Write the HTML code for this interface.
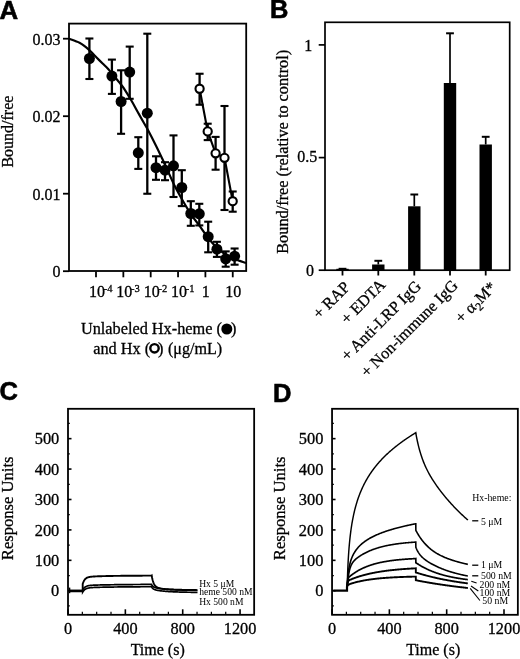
<!DOCTYPE html>
<html><head><meta charset="utf-8"><style>
html,body{margin:0;padding:0;background:#fff;width:520px;height:659px;overflow:hidden}
svg{display:block;filter:grayscale(1)}
</style></head><body>
<svg width="520" height="659" viewBox="0 0 520 659" stroke="#000" fill="#000" stroke-linecap="butt">
<g stroke="none" fill="#000"></g>
<text x="-0.50" y="19.00" font-size="25.8" text-anchor="start" font-family="Liberation Sans, sans-serif" font-weight="bold" stroke="#000" stroke-width="0.6">A</text>
<rect x="69" y="23.6" width="177.2" height="247.4" fill="none" stroke-width="1.8"/>
<line x1="63.00" y1="38.70" x2="69.00" y2="38.70" stroke-width="1.8"/>
<text stroke="#000" stroke-width="0.3" x="60.50" y="44.50" font-size="16" text-anchor="end" font-family="Liberation Serif, serif" >0.03</text>
<line x1="63.00" y1="116.20" x2="69.00" y2="116.20" stroke-width="1.8"/>
<text stroke="#000" stroke-width="0.3" x="60.50" y="122.00" font-size="16" text-anchor="end" font-family="Liberation Serif, serif" >0.02</text>
<line x1="63.00" y1="193.70" x2="69.00" y2="193.70" stroke-width="1.8"/>
<text stroke="#000" stroke-width="0.3" x="60.50" y="199.50" font-size="16" text-anchor="end" font-family="Liberation Serif, serif" >0.01</text>
<line x1="63.00" y1="271.20" x2="69.00" y2="271.20" stroke-width="1.8"/>
<text stroke="#000" stroke-width="0.3" x="60.50" y="277.00" font-size="16" text-anchor="end" font-family="Liberation Serif, serif" >0</text>
<line x1="96.00" y1="271.50" x2="96.00" y2="277.30" stroke-width="1.8"/>
<text stroke="#000" stroke-width="0.3" x="89.00" y="296.5" font-size="16" font-family="Liberation Serif, serif">10<tspan font-size="10.5" dy="-4.4" dx="-1.3">-4</tspan></text>
<line x1="123.35" y1="271.50" x2="123.35" y2="277.30" stroke-width="1.8"/>
<text stroke="#000" stroke-width="0.3" x="116.35" y="296.5" font-size="16" font-family="Liberation Serif, serif">10<tspan font-size="10.5" dy="-4.4" dx="-1.3">-3</tspan></text>
<line x1="150.70" y1="271.50" x2="150.70" y2="277.30" stroke-width="1.8"/>
<text stroke="#000" stroke-width="0.3" x="143.70" y="296.5" font-size="16" font-family="Liberation Serif, serif">10<tspan font-size="10.5" dy="-4.4" dx="-1.3">-2</tspan></text>
<line x1="178.05" y1="271.50" x2="178.05" y2="277.30" stroke-width="1.8"/>
<text stroke="#000" stroke-width="0.3" x="171.05" y="296.5" font-size="16" font-family="Liberation Serif, serif">10<tspan font-size="10.5" dy="-4.4" dx="-1.3">-1</tspan></text>
<line x1="205.40" y1="271.50" x2="205.40" y2="277.30" stroke-width="1.8"/>
<text stroke="#000" stroke-width="0.3" x="205.70" y="296.50" font-size="16" text-anchor="middle" font-family="Liberation Serif, serif" >1</text>
<line x1="232.75" y1="271.50" x2="232.75" y2="277.30" stroke-width="1.8"/>
<text stroke="#000" stroke-width="0.3" x="233.35" y="296.50" font-size="16" text-anchor="middle" font-family="Liberation Serif, serif" >10</text>
<text stroke="#000" stroke-width="0.3" x="80.90" y="334.20" font-size="16.3" text-anchor="start" font-family="Liberation Serif, serif" >Unlabeled Hx-heme (</text>
<text stroke="#000" stroke-width="0.3" x="230.90" y="334.20" font-size="16.3" text-anchor="start" font-family="Liberation Serif, serif" >)</text>
<circle cx="226.8" cy="329" r="5.5" fill="#000" stroke="none"/>
<text stroke="#000" stroke-width="0.3" x="93.20" y="353.80" font-size="16.3" text-anchor="start" font-family="Liberation Serif, serif" >and Hx (</text>
<text stroke="#000" stroke-width="0.3" x="158.10" y="353.80" font-size="16.3" text-anchor="start" font-family="Liberation Serif, serif" >)</text>
<text stroke="#000" stroke-width="0.3" x="167.90" y="353.80" font-size="16.1" text-anchor="start" font-family="Liberation Serif, serif" >(&#956;g/mL)</text>
<circle cx="154.5" cy="348.3" r="4.2" fill="none" stroke-width="2.4"/>
<text stroke="#000" stroke-width="0.3" transform="translate(12.5,131.6) rotate(-90)" font-size="16" text-anchor="middle" font-family="Liberation Serif, serif">Bound/free</text>
<path d="M69.00,38.70 C70.75,39.37 76.78,41.37 79.50,42.70 C82.22,44.03 83.37,45.17 85.30,46.70 C87.23,48.23 89.18,50.07 91.10,51.90 C93.02,53.73 94.88,55.77 96.80,57.70 C98.72,59.63 100.67,61.58 102.60,63.50 C104.53,65.42 106.47,67.08 108.40,69.20 C110.33,71.32 112.28,73.88 114.20,76.20 C116.12,78.52 118.37,81.18 119.90,83.10 C121.43,85.02 121.47,84.75 123.40,87.70 C125.33,90.65 129.18,96.88 131.50,100.80 C133.82,104.72 135.37,107.75 137.30,111.20 C139.23,114.65 141.37,118.43 143.10,121.50 C144.83,124.57 145.47,125.40 147.70,129.60 C149.93,133.80 154.07,141.83 156.50,146.70 C158.93,151.57 160.37,154.67 162.30,158.80 C164.23,162.93 165.98,166.88 168.10,171.50 C170.22,176.12 172.50,181.55 175.00,186.50 C177.50,191.45 180.40,196.52 183.10,201.20 C185.80,205.88 188.52,210.57 191.20,214.60 C193.88,218.63 196.52,221.70 199.20,225.40 C201.88,229.10 204.60,233.33 207.30,236.80 C210.00,240.27 212.70,243.50 215.40,246.20 C218.10,248.90 220.40,250.90 223.50,253.00 C226.60,255.10 230.25,257.13 234.00,258.80 C237.75,260.47 244.00,262.30 246.00,263.00" stroke-width="2.2" fill="none"/>
<path d="M199.6,88.75 L207.7,131.4 L215.6,153.3 L224.5,157.8 L232.7,201.2" stroke-width="2.1" fill="none"/>
<line x1="89.40" y1="38.50" x2="89.40" y2="79.00" stroke-width="2.3"/>
<line x1="85.40" y1="38.50" x2="93.40" y2="38.50" stroke-width="2.1"/>
<line x1="85.40" y1="79.00" x2="93.40" y2="79.00" stroke-width="2.1"/>
<line x1="111.90" y1="59.60" x2="111.90" y2="93.90" stroke-width="2.3"/>
<line x1="107.90" y1="59.60" x2="115.90" y2="59.60" stroke-width="2.1"/>
<line x1="107.90" y1="93.90" x2="115.90" y2="93.90" stroke-width="2.1"/>
<line x1="121.10" y1="70.30" x2="121.10" y2="133.80" stroke-width="2.3"/>
<line x1="117.10" y1="70.30" x2="125.10" y2="70.30" stroke-width="2.1"/>
<line x1="117.10" y1="133.80" x2="125.10" y2="133.80" stroke-width="2.1"/>
<line x1="129.70" y1="46.60" x2="129.70" y2="98.80" stroke-width="2.3"/>
<line x1="125.70" y1="46.60" x2="133.70" y2="46.60" stroke-width="2.1"/>
<line x1="125.70" y1="98.80" x2="133.70" y2="98.80" stroke-width="2.1"/>
<line x1="147.30" y1="33.70" x2="147.30" y2="193.75" stroke-width="2.3"/>
<line x1="143.30" y1="33.70" x2="151.30" y2="33.70" stroke-width="2.1"/>
<line x1="143.30" y1="193.75" x2="151.30" y2="193.75" stroke-width="2.1"/>
<line x1="138.30" y1="137.20" x2="138.30" y2="168.90" stroke-width="2.3"/>
<line x1="134.30" y1="137.20" x2="142.30" y2="137.20" stroke-width="2.1"/>
<line x1="134.30" y1="168.90" x2="142.30" y2="168.90" stroke-width="2.1"/>
<line x1="156.00" y1="156.30" x2="156.00" y2="179.80" stroke-width="2.3"/>
<line x1="152.00" y1="156.30" x2="160.00" y2="156.30" stroke-width="2.1"/>
<line x1="152.00" y1="179.80" x2="160.00" y2="179.80" stroke-width="2.1"/>
<line x1="165.00" y1="162.20" x2="165.00" y2="180.20" stroke-width="2.3"/>
<line x1="161.00" y1="162.20" x2="169.00" y2="162.20" stroke-width="2.1"/>
<line x1="161.00" y1="180.20" x2="169.00" y2="180.20" stroke-width="2.1"/>
<line x1="173.50" y1="135.40" x2="173.50" y2="197.00" stroke-width="2.3"/>
<line x1="169.50" y1="135.40" x2="177.50" y2="135.40" stroke-width="2.1"/>
<line x1="169.50" y1="197.00" x2="177.50" y2="197.00" stroke-width="2.1"/>
<line x1="181.80" y1="170.20" x2="181.80" y2="206.10" stroke-width="2.3"/>
<line x1="177.80" y1="170.20" x2="185.80" y2="170.20" stroke-width="2.1"/>
<line x1="177.80" y1="206.10" x2="185.80" y2="206.10" stroke-width="2.1"/>
<line x1="190.80" y1="201.20" x2="190.80" y2="225.80" stroke-width="2.3"/>
<line x1="186.80" y1="201.20" x2="194.80" y2="201.20" stroke-width="2.1"/>
<line x1="186.80" y1="225.80" x2="194.80" y2="225.80" stroke-width="2.1"/>
<line x1="199.30" y1="203.80" x2="199.30" y2="225.40" stroke-width="2.3"/>
<line x1="195.30" y1="203.80" x2="203.30" y2="203.80" stroke-width="2.1"/>
<line x1="195.30" y1="225.40" x2="203.30" y2="225.40" stroke-width="2.1"/>
<line x1="208.20" y1="221.70" x2="208.20" y2="252.30" stroke-width="2.3"/>
<line x1="204.20" y1="221.70" x2="212.20" y2="221.70" stroke-width="2.1"/>
<line x1="204.20" y1="252.30" x2="212.20" y2="252.30" stroke-width="2.1"/>
<line x1="216.90" y1="241.80" x2="216.90" y2="256.90" stroke-width="2.3"/>
<line x1="212.90" y1="241.80" x2="220.90" y2="241.80" stroke-width="2.1"/>
<line x1="212.90" y1="256.90" x2="220.90" y2="256.90" stroke-width="2.1"/>
<line x1="225.70" y1="251.40" x2="225.70" y2="266.70" stroke-width="2.3"/>
<line x1="221.70" y1="251.40" x2="229.70" y2="251.40" stroke-width="2.1"/>
<line x1="221.70" y1="266.70" x2="229.70" y2="266.70" stroke-width="2.1"/>
<line x1="234.60" y1="248.50" x2="234.60" y2="264.70" stroke-width="2.3"/>
<line x1="230.60" y1="248.50" x2="238.60" y2="248.50" stroke-width="2.1"/>
<line x1="230.60" y1="264.70" x2="238.60" y2="264.70" stroke-width="2.1"/>
<line x1="199.60" y1="73.75" x2="199.60" y2="104.75" stroke-width="2.3"/>
<line x1="195.60" y1="73.75" x2="203.60" y2="73.75" stroke-width="2.1"/>
<line x1="195.60" y1="104.75" x2="203.60" y2="104.75" stroke-width="2.1"/>
<line x1="207.70" y1="123.70" x2="207.70" y2="140.10" stroke-width="2.3"/>
<line x1="203.70" y1="123.70" x2="211.70" y2="123.70" stroke-width="2.1"/>
<line x1="203.70" y1="140.10" x2="211.70" y2="140.10" stroke-width="2.1"/>
<line x1="215.60" y1="136.90" x2="215.60" y2="169.70" stroke-width="2.3"/>
<line x1="211.60" y1="136.90" x2="219.60" y2="136.90" stroke-width="2.1"/>
<line x1="211.60" y1="169.70" x2="219.60" y2="169.70" stroke-width="2.1"/>
<line x1="224.50" y1="106.00" x2="224.50" y2="210.00" stroke-width="2.3"/>
<line x1="220.50" y1="106.00" x2="228.50" y2="106.00" stroke-width="2.1"/>
<line x1="220.50" y1="210.00" x2="228.50" y2="210.00" stroke-width="2.1"/>
<line x1="232.70" y1="191.50" x2="232.70" y2="211.70" stroke-width="2.3"/>
<line x1="228.70" y1="191.50" x2="236.70" y2="191.50" stroke-width="2.1"/>
<line x1="228.70" y1="211.70" x2="236.70" y2="211.70" stroke-width="2.1"/>
<circle cx="89.4" cy="58.5" r="5.5" fill="#000" stroke="none"/>
<circle cx="111.9" cy="76.1" r="5.5" fill="#000" stroke="none"/>
<circle cx="121.1" cy="101.5" r="5.5" fill="#000" stroke="none"/>
<circle cx="129.7" cy="72.1" r="5.5" fill="#000" stroke="none"/>
<circle cx="147.3" cy="113.2" r="5.5" fill="#000" stroke="none"/>
<circle cx="138.3" cy="152.8" r="5.5" fill="#000" stroke="none"/>
<circle cx="156" cy="167.7" r="5.5" fill="#000" stroke="none"/>
<circle cx="165" cy="170.2" r="5.5" fill="#000" stroke="none"/>
<circle cx="173.5" cy="165.8" r="5.5" fill="#000" stroke="none"/>
<circle cx="181.8" cy="187.5" r="5.5" fill="#000" stroke="none"/>
<circle cx="190.8" cy="213.5" r="5.5" fill="#000" stroke="none"/>
<circle cx="199.3" cy="213.8" r="5.5" fill="#000" stroke="none"/>
<circle cx="208.2" cy="236.7" r="5.5" fill="#000" stroke="none"/>
<circle cx="216.9" cy="249.2" r="5.5" fill="#000" stroke="none"/>
<circle cx="225.7" cy="258.8" r="5.5" fill="#000" stroke="none"/>
<circle cx="234.6" cy="256.2" r="5.5" fill="#000" stroke="none"/>
<circle cx="199.6" cy="88.75" r="4.1" fill="#fff" stroke-width="2.1"/>
<circle cx="207.7" cy="131.4" r="4.1" fill="#fff" stroke-width="2.1"/>
<circle cx="215.6" cy="153.3" r="4.1" fill="#fff" stroke-width="2.1"/>
<circle cx="224.5" cy="157.8" r="4.1" fill="#fff" stroke-width="2.1"/>
<circle cx="232.7" cy="201.2" r="4.1" fill="#fff" stroke-width="2.1"/>
<text x="270.00" y="17.90" font-size="25.5" text-anchor="start" font-family="Liberation Sans, sans-serif" font-weight="bold" stroke="#000" stroke-width="0.6">B</text>
<rect x="325" y="22.3" width="184.7" height="247.9" fill="none" stroke-width="1.7"/>
<line x1="318.70" y1="270.20" x2="325.00" y2="270.20" stroke-width="1.7"/>
<line x1="318.70" y1="44.90" x2="325.00" y2="44.90" stroke-width="1.7"/>
<line x1="318.70" y1="157.60" x2="325.00" y2="157.60" stroke-width="1.7"/>
<text stroke="#000" stroke-width="0.3" x="314.00" y="276.30" font-size="16" text-anchor="end" font-family="Liberation Serif, serif" >0</text>
<text stroke="#000" stroke-width="0.3" x="312.30" y="50.50" font-size="16" text-anchor="end" font-family="Liberation Serif, serif" >1</text>
<text stroke="#000" stroke-width="0.3" x="317.20" y="161.70" font-size="16" text-anchor="end" font-family="Liberation Serif, serif" >0.5</text>
<text stroke="#000" stroke-width="0.3" transform="translate(287.7,151.8) rotate(-90)" font-size="16.3" text-anchor="middle" font-family="Liberation Serif, serif">Bound/free (relative to control)</text>
<line x1="342.50" y1="270.20" x2="342.50" y2="275.50" stroke-width="1.8"/>
<rect x="336.30" y="268.8" width="12.4" height="1.40" fill="#000" stroke="none"/>
<line x1="342.50" y1="268.80" x2="342.50" y2="268.80" stroke-width="1.7"/>
<line x1="338.60" y1="268.80" x2="346.40" y2="268.80" stroke-width="2"/>
<line x1="378.30" y1="270.20" x2="378.30" y2="275.50" stroke-width="1.8"/>
<rect x="372.10" y="264.5" width="12.4" height="5.70" fill="#000" stroke="none"/>
<line x1="378.30" y1="260.80" x2="378.30" y2="264.50" stroke-width="1.7"/>
<line x1="374.40" y1="260.80" x2="382.20" y2="260.80" stroke-width="2"/>
<line x1="414.30" y1="270.20" x2="414.30" y2="275.50" stroke-width="1.8"/>
<rect x="408.10" y="206.3" width="12.4" height="63.90" fill="#000" stroke="none"/>
<line x1="414.30" y1="194.50" x2="414.30" y2="206.30" stroke-width="1.7"/>
<line x1="410.40" y1="194.50" x2="418.20" y2="194.50" stroke-width="2"/>
<line x1="450.00" y1="270.20" x2="450.00" y2="275.50" stroke-width="1.8"/>
<rect x="443.80" y="83" width="12.4" height="187.20" fill="#000" stroke="none"/>
<line x1="450.00" y1="33.30" x2="450.00" y2="83.00" stroke-width="1.7"/>
<line x1="446.10" y1="33.30" x2="453.90" y2="33.30" stroke-width="2"/>
<line x1="485.70" y1="270.20" x2="485.70" y2="275.50" stroke-width="1.8"/>
<rect x="479.50" y="144.5" width="12.4" height="125.70" fill="#000" stroke="none"/>
<line x1="485.70" y1="136.80" x2="485.70" y2="144.50" stroke-width="1.7"/>
<line x1="481.80" y1="136.80" x2="489.60" y2="136.80" stroke-width="2"/>
<text stroke="#000" stroke-width="0.3" transform="translate(351.00,288.00) rotate(-45)" font-size="16.3" text-anchor="end" font-family="Liberation Serif, serif">+ RAP</text>
<text stroke="#000" stroke-width="0.3" transform="translate(386.30,285.80) rotate(-45)" font-size="16.3" text-anchor="end" font-family="Liberation Serif, serif">+ EDTA</text>
<text stroke="#000" stroke-width="0.3" transform="translate(422.00,287.20) rotate(-45)" font-size="16.3" text-anchor="end" font-family="Liberation Serif, serif">+ Anti-LRP IgG</text>
<text stroke="#000" stroke-width="0.3" transform="translate(458.80,286.50) rotate(-45)" font-size="16.3" text-anchor="end" font-family="Liberation Serif, serif">+ Non-immune IgG</text>
<text stroke="#000" stroke-width="0.3" transform="translate(497.20,288.30) rotate(-45)" font-size="16.3" text-anchor="end" font-family="Liberation Serif, serif">+ &#945;<tspan font-size="12" dy="4.2">2</tspan><tspan dy="-4.2">M*</tspan></text>
<rect x="68.0" y="408.8" width="186.15" height="205.99999999999994" fill="none" stroke-width="1.8"/>
<line x1="68.00" y1="605.96" x2="69.80" y2="605.96" stroke-width="1.2"/>
<line x1="68.00" y1="590.75" x2="71.50" y2="590.75" stroke-width="1.6"/>
<text stroke="#000" stroke-width="0.3" x="59.30" y="596.35" font-size="16.4" text-anchor="end" font-family="Liberation Serif, serif" >0</text>
<line x1="68.00" y1="575.54" x2="69.80" y2="575.54" stroke-width="1.2"/>
<line x1="68.00" y1="560.33" x2="71.50" y2="560.33" stroke-width="1.6"/>
<text stroke="#000" stroke-width="0.3" x="59.30" y="565.93" font-size="16.4" text-anchor="end" font-family="Liberation Serif, serif" >100</text>
<line x1="68.00" y1="545.12" x2="69.80" y2="545.12" stroke-width="1.2"/>
<line x1="68.00" y1="529.91" x2="71.50" y2="529.91" stroke-width="1.6"/>
<text stroke="#000" stroke-width="0.3" x="59.30" y="535.51" font-size="16.4" text-anchor="end" font-family="Liberation Serif, serif" >200</text>
<line x1="68.00" y1="514.70" x2="69.80" y2="514.70" stroke-width="1.2"/>
<line x1="68.00" y1="499.49" x2="71.50" y2="499.49" stroke-width="1.6"/>
<text stroke="#000" stroke-width="0.3" x="59.30" y="505.09" font-size="16.4" text-anchor="end" font-family="Liberation Serif, serif" >300</text>
<line x1="68.00" y1="484.28" x2="69.80" y2="484.28" stroke-width="1.2"/>
<line x1="68.00" y1="469.07" x2="71.50" y2="469.07" stroke-width="1.6"/>
<text stroke="#000" stroke-width="0.3" x="59.30" y="474.67" font-size="16.4" text-anchor="end" font-family="Liberation Serif, serif" >400</text>
<line x1="68.00" y1="453.86" x2="69.80" y2="453.86" stroke-width="1.2"/>
<line x1="68.00" y1="438.65" x2="71.50" y2="438.65" stroke-width="1.6"/>
<text stroke="#000" stroke-width="0.3" x="59.30" y="444.25" font-size="16.4" text-anchor="end" font-family="Liberation Serif, serif" >500</text>
<line x1="68.00" y1="423.44" x2="69.80" y2="423.44" stroke-width="1.2"/>
<line x1="68.00" y1="614.80" x2="68.00" y2="609.30" stroke-width="1.6"/>
<text stroke="#000" stroke-width="0.3" x="68.00" y="634.20" font-size="16.3" text-anchor="middle" font-family="Liberation Serif, serif" >0</text>
<line x1="82.34" y1="614.80" x2="82.34" y2="611.80" stroke-width="1.2"/>
<line x1="96.68" y1="614.80" x2="96.68" y2="611.80" stroke-width="1.2"/>
<line x1="111.01" y1="614.80" x2="111.01" y2="611.80" stroke-width="1.2"/>
<line x1="125.35" y1="614.80" x2="125.35" y2="609.30" stroke-width="1.6"/>
<text stroke="#000" stroke-width="0.3" x="125.35" y="634.20" font-size="16.3" text-anchor="middle" font-family="Liberation Serif, serif" >400</text>
<line x1="139.69" y1="614.80" x2="139.69" y2="611.80" stroke-width="1.2"/>
<line x1="154.03" y1="614.80" x2="154.03" y2="611.80" stroke-width="1.2"/>
<line x1="168.37" y1="614.80" x2="168.37" y2="611.80" stroke-width="1.2"/>
<line x1="182.70" y1="614.80" x2="182.70" y2="609.30" stroke-width="1.6"/>
<text stroke="#000" stroke-width="0.3" x="182.70" y="634.20" font-size="16.3" text-anchor="middle" font-family="Liberation Serif, serif" >800</text>
<line x1="197.04" y1="614.80" x2="197.04" y2="611.80" stroke-width="1.2"/>
<line x1="211.38" y1="614.80" x2="211.38" y2="611.80" stroke-width="1.2"/>
<line x1="225.72" y1="614.80" x2="225.72" y2="611.80" stroke-width="1.2"/>
<line x1="240.06" y1="614.80" x2="240.06" y2="609.30" stroke-width="1.6"/>
<text stroke="#000" stroke-width="0.3" x="240.06" y="634.20" font-size="16.3" text-anchor="middle" font-family="Liberation Serif, serif" >1200</text>
<text stroke="#000" stroke-width="0.3" x="157.70" y="654.50" font-size="16" text-anchor="middle" font-family="Liberation Serif, serif" >Time (s)</text>
<text stroke="#000" stroke-width="0.3" transform="translate(12.90,508.3) rotate(-90)" font-size="16.6" text-anchor="middle" font-family="Liberation Serif, serif">Response Units</text>
<text x="-0.40" y="399.90" font-size="25.5" text-anchor="start" font-family="Liberation Sans, sans-serif" font-weight="bold" stroke="#000" stroke-width="0.6">C</text>
<rect x="332.05" y="408.8" width="185.8" height="205.99999999999994" fill="none" stroke-width="1.8"/>
<line x1="332.05" y1="605.96" x2="333.85" y2="605.96" stroke-width="1.2"/>
<line x1="332.05" y1="590.75" x2="335.55" y2="590.75" stroke-width="1.6"/>
<text stroke="#000" stroke-width="0.3" x="323.35" y="596.35" font-size="16.4" text-anchor="end" font-family="Liberation Serif, serif" >0</text>
<line x1="332.05" y1="575.54" x2="333.85" y2="575.54" stroke-width="1.2"/>
<line x1="332.05" y1="560.33" x2="335.55" y2="560.33" stroke-width="1.6"/>
<text stroke="#000" stroke-width="0.3" x="323.35" y="565.93" font-size="16.4" text-anchor="end" font-family="Liberation Serif, serif" >100</text>
<line x1="332.05" y1="545.12" x2="333.85" y2="545.12" stroke-width="1.2"/>
<line x1="332.05" y1="529.91" x2="335.55" y2="529.91" stroke-width="1.6"/>
<text stroke="#000" stroke-width="0.3" x="323.35" y="535.51" font-size="16.4" text-anchor="end" font-family="Liberation Serif, serif" >200</text>
<line x1="332.05" y1="514.70" x2="333.85" y2="514.70" stroke-width="1.2"/>
<line x1="332.05" y1="499.49" x2="335.55" y2="499.49" stroke-width="1.6"/>
<text stroke="#000" stroke-width="0.3" x="323.35" y="505.09" font-size="16.4" text-anchor="end" font-family="Liberation Serif, serif" >300</text>
<line x1="332.05" y1="484.28" x2="333.85" y2="484.28" stroke-width="1.2"/>
<line x1="332.05" y1="469.07" x2="335.55" y2="469.07" stroke-width="1.6"/>
<text stroke="#000" stroke-width="0.3" x="323.35" y="474.67" font-size="16.4" text-anchor="end" font-family="Liberation Serif, serif" >400</text>
<line x1="332.05" y1="453.86" x2="333.85" y2="453.86" stroke-width="1.2"/>
<line x1="332.05" y1="438.65" x2="335.55" y2="438.65" stroke-width="1.6"/>
<text stroke="#000" stroke-width="0.3" x="323.35" y="444.25" font-size="16.4" text-anchor="end" font-family="Liberation Serif, serif" >500</text>
<line x1="332.05" y1="423.44" x2="333.85" y2="423.44" stroke-width="1.2"/>
<line x1="332.05" y1="614.80" x2="332.05" y2="609.30" stroke-width="1.6"/>
<text stroke="#000" stroke-width="0.3" x="332.05" y="634.20" font-size="16.3" text-anchor="middle" font-family="Liberation Serif, serif" >0</text>
<line x1="346.38" y1="614.80" x2="346.38" y2="611.80" stroke-width="1.2"/>
<line x1="360.71" y1="614.80" x2="360.71" y2="611.80" stroke-width="1.2"/>
<line x1="375.04" y1="614.80" x2="375.04" y2="611.80" stroke-width="1.2"/>
<line x1="389.37" y1="614.80" x2="389.37" y2="609.30" stroke-width="1.6"/>
<text stroke="#000" stroke-width="0.3" x="389.37" y="634.20" font-size="16.3" text-anchor="middle" font-family="Liberation Serif, serif" >400</text>
<line x1="403.69" y1="614.80" x2="403.69" y2="611.80" stroke-width="1.2"/>
<line x1="418.02" y1="614.80" x2="418.02" y2="611.80" stroke-width="1.2"/>
<line x1="432.35" y1="614.80" x2="432.35" y2="611.80" stroke-width="1.2"/>
<line x1="446.68" y1="614.80" x2="446.68" y2="609.30" stroke-width="1.6"/>
<text stroke="#000" stroke-width="0.3" x="446.68" y="634.20" font-size="16.3" text-anchor="middle" font-family="Liberation Serif, serif" >800</text>
<line x1="461.01" y1="614.80" x2="461.01" y2="611.80" stroke-width="1.2"/>
<line x1="475.34" y1="614.80" x2="475.34" y2="611.80" stroke-width="1.2"/>
<line x1="489.67" y1="614.80" x2="489.67" y2="611.80" stroke-width="1.2"/>
<line x1="504.00" y1="614.80" x2="504.00" y2="609.30" stroke-width="1.6"/>
<text stroke="#000" stroke-width="0.3" x="504.00" y="634.20" font-size="16.3" text-anchor="middle" font-family="Liberation Serif, serif" >1200</text>
<text stroke="#000" stroke-width="0.3" x="433.20" y="654.50" font-size="16" text-anchor="middle" font-family="Liberation Serif, serif" >Time (s)</text>
<text stroke="#000" stroke-width="0.3" transform="translate(285.20,508.3) rotate(-90)" font-size="16.6" text-anchor="middle" font-family="Liberation Serif, serif">Response Units</text>
<text x="273.00" y="401.90" font-size="25.5" text-anchor="start" font-family="Liberation Sans, sans-serif" font-weight="bold" stroke="#000" stroke-width="0.6">D</text>
<path d="M69.50,590.60 L82.70,590.60 L82.70,583.90 L83.10,582.74 L83.50,581.77 L83.90,580.95 L84.30,580.27 L84.70,579.70 L85.10,579.21 L85.50,578.81 L85.90,578.47 L86.30,578.18 L86.70,577.93 L87.10,577.72 L87.50,577.55 L87.90,577.40 L88.30,577.27 L88.70,577.16 L89.10,577.06 L89.50,576.98 L89.90,576.90 L90.30,576.84 L90.70,576.78 L91.10,576.73 L91.50,576.69 L91.90,576.65 L92.30,576.61 L92.70,576.58 L93.10,576.55 L93.50,576.52 L93.90,576.50 L94.30,576.47 L94.70,576.45 L95.10,576.43 L95.50,576.41 L95.90,576.39 L96.30,576.37 L96.70,576.36 L97.10,576.34 L97.50,576.32 L97.90,576.31 L98.30,576.29 L98.70,576.28 L99.10,576.26 L99.50,576.25 L99.90,576.24 L100.30,576.22 L100.70,576.21 L101.10,576.20 L101.50,576.19 L101.90,576.18 L102.30,576.16 L102.70,576.15 L103.10,576.14 L103.50,576.13 L103.90,576.12 L104.30,576.11 L104.70,576.10 L105.10,576.09 L105.50,576.08 L105.90,576.07 L106.30,576.06 L106.70,576.05 L107.10,576.04 L107.50,576.03 L107.90,576.03 L108.30,576.02 L108.70,576.01 L109.10,576.00 L109.50,575.99 L109.90,575.99 L110.30,575.98 L110.70,575.97 L111.10,575.96 L111.50,575.96 L111.90,575.95 L112.30,575.94 L112.70,575.93 L113.10,575.93 L113.50,575.92 L113.90,575.92 L114.30,575.91 L114.70,575.90 L115.10,575.90 L115.50,575.89 L115.90,575.89 L116.30,575.88 L116.70,575.87 L117.10,575.87 L117.50,575.86 L117.90,575.86 L118.30,575.85 L118.70,575.85 L119.10,575.84 L119.50,575.84 L119.90,575.83 L120.30,575.83 L120.70,575.82 L121.10,575.82 L121.50,575.82 L121.90,575.81 L122.30,575.81 L122.70,575.80 L123.10,575.80 L123.50,575.80 L123.90,575.79 L124.30,575.79 L124.70,575.78 L125.10,575.78 L125.50,575.78 L125.90,575.77 L126.30,575.77 L126.70,575.77 L127.10,575.76 L127.50,575.76 L127.90,575.76 L128.30,575.75 L128.70,575.75 L129.10,575.75 L129.50,575.74 L129.90,575.74 L130.30,575.74 L130.70,575.74 L131.10,575.73 L131.50,575.73 L131.90,575.73 L132.30,575.73 L132.70,575.72 L133.10,575.72 L133.50,575.72 L133.90,575.72 L134.30,575.71 L134.70,575.71 L135.10,575.71 L135.50,575.71 L135.90,575.70 L136.30,575.70 L136.70,575.70 L137.10,575.70 L137.50,575.70 L137.90,575.69 L138.30,575.69 L138.70,575.69 L139.10,575.69 L139.50,575.69 L139.90,575.69 L140.30,575.68 L140.70,575.68 L141.10,575.68 L141.50,575.68 L141.90,575.68 L142.30,575.68 L142.70,575.67 L143.10,575.67 L143.50,575.67 L143.90,575.67 L144.30,575.67 L144.70,575.67 L145.10,575.67 L145.50,575.66 L145.90,575.66 L146.30,575.66 L146.70,575.66 L147.10,575.66 L147.50,575.66 L147.90,575.66 L148.30,575.66 L148.70,575.66 L149.10,575.65 L149.50,575.65 L149.90,575.65 L150.30,575.65 L150.70,575.65 L151.10,575.65 L151.50,575.65 L151.70,575.50 L152.10,577.73 L152.50,579.56 L152.90,581.05 L153.30,582.27 L153.70,583.28 L154.10,584.11 L154.50,584.80 L154.90,585.38 L155.30,585.86 L155.70,586.27 L156.10,586.62 L156.50,586.91 L156.90,587.17 L157.30,587.39 L157.70,587.58 L158.10,587.75 L158.50,587.89 L158.90,588.03 L159.30,588.14 L159.70,588.25 L160.10,588.35 L160.50,588.43 L160.90,588.51 L161.30,588.59 L161.70,588.65 L162.10,588.72 L162.50,588.78 L162.90,588.83 L163.30,588.88 L163.70,588.93 L164.10,588.97 L164.50,589.02 L164.90,589.06 L165.30,589.09 L165.70,589.13 L166.10,589.16 L166.50,589.20 L166.90,589.23 L167.30,589.26 L167.70,589.28 L168.10,589.31 L168.50,589.34 L168.90,589.36 L169.30,589.38 L169.70,589.41 L170.10,589.43 L170.50,589.45 L170.90,589.47 L171.30,589.49 L171.70,589.50 L172.10,589.52 L172.50,589.54 L172.90,589.56 L173.30,589.57 L173.70,589.59 L174.10,589.60 L174.50,589.62 L174.90,589.63 L175.30,589.64 L175.70,589.66 L176.10,589.67 L176.50,589.68 L176.90,589.70 L177.30,589.71 L177.70,589.72 L178.10,589.73 L178.50,589.74 L178.90,589.75 L179.30,589.76 L179.70,589.77 L180.10,589.78 L180.50,589.79 L180.90,589.80 L181.30,589.81 L181.70,589.82 L182.10,589.83 L182.50,589.84 L182.90,589.85 L183.30,589.86 L183.70,589.86 L184.10,589.87 L184.50,589.88 L184.90,589.89 L185.30,589.90 L185.70,589.90 L186.10,589.91 L186.50,589.92 L186.90,589.93 L187.30,589.93 L187.70,589.94 L188.10,589.95 L188.50,589.95 L188.90,589.96 L189.30,589.97 L189.70,589.97 L190.10,589.98 L190.50,589.99 L190.90,589.99 L191.30,590.00 L191.70,590.01 L192.10,590.01 L192.50,590.02 L192.90,590.03 L193.30,590.03 L193.70,590.04 L194.10,590.04 L194.50,590.05 L194.90,590.05 L195.30,590.06 L195.70,590.07 L196.10,590.07 L196.50,590.08 L196.90,590.08 L197.30,590.09" stroke-width="1.9" fill="none"/>
<path d="M69.50,590.60 L82.70,590.60 L82.70,589.80 L83.20,589.00 L83.70,588.34 L84.20,587.80 L84.70,587.35 L85.20,586.99 L85.70,586.68 L86.20,586.43 L86.70,586.22 L87.20,586.04 L87.70,585.90 L88.20,585.78 L88.70,585.67 L89.20,585.59 L89.70,585.51 L90.20,585.45 L90.70,585.39 L91.20,585.35 L91.70,585.31 L92.20,585.27 L92.70,585.24 L93.20,585.21 L93.70,585.18 L94.20,585.16 L94.70,585.14 L95.20,585.12 L95.70,585.10 L96.20,585.08 L96.70,585.07 L97.20,585.05 L97.70,585.04 L98.20,585.02 L98.70,585.01 L99.20,585.00 L99.70,584.99 L100.20,584.97 L100.70,584.96 L101.20,584.95 L101.70,584.94 L102.20,584.93 L102.70,584.92 L103.20,584.91 L103.70,584.90 L104.20,584.89 L104.70,584.88 L105.20,584.87 L105.70,584.86 L106.20,584.85 L106.70,584.84 L107.20,584.83 L107.70,584.82 L108.20,584.81 L108.70,584.80 L109.20,584.80 L109.70,584.79 L110.20,584.78 L110.70,584.77 L111.20,584.76 L111.70,584.76 L112.20,584.75 L112.70,584.74 L113.20,584.73 L113.70,584.73 L114.20,584.72 L114.70,584.71 L115.20,584.71 L115.70,584.70 L116.20,584.69 L116.70,584.69 L117.20,584.68 L117.70,584.67 L118.20,584.67 L118.70,584.66 L119.20,584.66 L119.70,584.65 L120.20,584.64 L120.70,584.64 L121.20,584.63 L121.70,584.63 L122.20,584.62 L122.70,584.62 L123.20,584.61 L123.70,584.61 L124.20,584.60 L124.70,584.60 L125.20,584.59 L125.70,584.59 L126.20,584.58 L126.70,584.58 L127.20,584.57 L127.70,584.57 L128.20,584.56 L128.70,584.56 L129.20,584.55 L129.70,584.55 L130.20,584.55 L130.70,584.54 L131.20,584.54 L131.70,584.53 L132.20,584.53 L132.70,584.53 L133.20,584.52 L133.70,584.52 L134.20,584.52 L134.70,584.51 L135.20,584.51 L135.70,584.51 L136.20,584.50 L136.70,584.50 L137.20,584.50 L137.70,584.49 L138.20,584.49 L138.70,584.49 L139.20,584.48 L139.70,584.48 L140.20,584.48 L140.70,584.47 L141.20,584.47 L141.70,584.47 L142.20,584.47 L142.70,584.46 L143.20,584.46 L143.70,584.46 L144.20,584.45 L144.70,584.45 L145.20,584.45 L145.70,584.45 L146.20,584.44 L146.70,584.44 L147.20,584.44 L147.70,584.44 L148.20,584.44 L148.70,584.43 L149.20,584.43 L149.70,584.43 L150.20,584.43 L150.70,584.42 L151.20,584.42 L151.50,584.40 L152.00,585.28 L152.50,585.94 L153.00,586.44 L153.50,586.83 L154.00,587.13 L154.50,587.37 L155.00,587.57 L155.50,587.73 L156.00,587.87 L156.50,587.99 L157.00,588.10 L157.50,588.20 L158.00,588.29 L158.50,588.37 L159.00,588.45 L159.50,588.52 L160.00,588.59 L160.50,588.66 L161.00,588.72 L161.50,588.78 L162.00,588.84 L162.50,588.89 L163.00,588.95 L163.50,589.00 L164.00,589.05 L164.50,589.10 L165.00,589.14 L165.50,589.19 L166.00,589.23 L166.50,589.27 L167.00,589.31 L167.50,589.35 L168.00,589.38 L168.50,589.42 L169.00,589.45 L169.50,589.49 L170.00,589.52 L170.50,589.55 L171.00,589.58 L171.50,589.61 L172.00,589.64 L172.50,589.66 L173.00,589.69 L173.50,589.71 L174.00,589.74 L174.50,589.76 L175.00,589.78 L175.50,589.81 L176.00,589.83 L176.50,589.85 L177.00,589.87 L177.50,589.88 L178.00,589.90 L178.50,589.92 L179.00,589.94 L179.50,589.95 L180.00,589.97 L180.50,589.98 L181.00,590.00 L181.50,590.01 L182.00,590.03 L182.50,590.04 L183.00,590.05 L183.50,590.06 L184.00,590.08 L184.50,590.09 L185.00,590.10 L185.50,590.11 L186.00,590.12 L186.50,590.13 L187.00,590.14 L187.50,590.15 L188.00,590.16 L188.50,590.17 L189.00,590.17 L189.50,590.18 L190.00,590.19 L190.50,590.20 L191.00,590.20 L191.50,590.21 L192.00,590.22 L192.50,590.22 L193.00,590.23 L193.50,590.24 L194.00,590.24 L194.50,590.25 L195.00,590.25 L195.50,590.26 L196.00,590.26 L196.50,590.27 L197.00,590.27 L197.50,590.28" stroke-width="1.7" fill="none"/>
<path d="M69.50,591.40 L82.70,591.40 L82.70,592.10 L83.20,591.30 L83.70,590.64 L84.20,590.10 L84.70,589.65 L85.20,589.29 L85.70,588.98 L86.20,588.73 L86.70,588.52 L87.20,588.34 L87.70,588.20 L88.20,588.08 L88.70,587.97 L89.20,587.89 L89.70,587.81 L90.20,587.75 L90.70,587.69 L91.20,587.65 L91.70,587.61 L92.20,587.57 L92.70,587.54 L93.20,587.51 L93.70,587.48 L94.20,587.46 L94.70,587.44 L95.20,587.42 L95.70,587.40 L96.20,587.38 L96.70,587.37 L97.20,587.35 L97.70,587.34 L98.20,587.32 L98.70,587.31 L99.20,587.30 L99.70,587.29 L100.20,587.27 L100.70,587.26 L101.20,587.25 L101.70,587.24 L102.20,587.23 L102.70,587.22 L103.20,587.21 L103.70,587.20 L104.20,587.19 L104.70,587.18 L105.20,587.17 L105.70,587.16 L106.20,587.15 L106.70,587.14 L107.20,587.13 L107.70,587.12 L108.20,587.11 L108.70,587.10 L109.20,587.10 L109.70,587.09 L110.20,587.08 L110.70,587.07 L111.20,587.06 L111.70,587.06 L112.20,587.05 L112.70,587.04 L113.20,587.03 L113.70,587.03 L114.20,587.02 L114.70,587.01 L115.20,587.01 L115.70,587.00 L116.20,586.99 L116.70,586.99 L117.20,586.98 L117.70,586.97 L118.20,586.97 L118.70,586.96 L119.20,586.96 L119.70,586.95 L120.20,586.94 L120.70,586.94 L121.20,586.93 L121.70,586.93 L122.20,586.92 L122.70,586.92 L123.20,586.91 L123.70,586.91 L124.20,586.90 L124.70,586.90 L125.20,586.89 L125.70,586.89 L126.20,586.88 L126.70,586.88 L127.20,586.87 L127.70,586.87 L128.20,586.86 L128.70,586.86 L129.20,586.85 L129.70,586.85 L130.20,586.85 L130.70,586.84 L131.20,586.84 L131.70,586.83 L132.20,586.83 L132.70,586.83 L133.20,586.82 L133.70,586.82 L134.20,586.82 L134.70,586.81 L135.20,586.81 L135.70,586.81 L136.20,586.80 L136.70,586.80 L137.20,586.80 L137.70,586.79 L138.20,586.79 L138.70,586.79 L139.20,586.78 L139.70,586.78 L140.20,586.78 L140.70,586.77 L141.20,586.77 L141.70,586.77 L142.20,586.77 L142.70,586.76 L143.20,586.76 L143.70,586.76 L144.20,586.75 L144.70,586.75 L145.20,586.75 L145.70,586.75 L146.20,586.74 L146.70,586.74 L147.20,586.74 L147.70,586.74 L148.20,586.74 L148.70,586.73 L149.20,586.73 L149.70,586.73 L150.20,586.73 L150.70,586.72 L151.20,586.72 L151.50,586.70 L152.00,587.55 L152.50,588.18 L153.00,588.66 L153.50,589.03 L154.00,589.33 L154.50,589.56 L155.00,589.75 L155.50,589.90 L156.00,590.04 L156.50,590.16 L157.00,590.26 L157.50,590.36 L158.00,590.44 L158.50,590.52 L159.00,590.60 L159.50,590.67 L160.00,590.73 L160.50,590.79 L161.00,590.86 L161.50,590.91 L162.00,590.97 L162.50,591.02 L163.00,591.07 L163.50,591.12 L164.00,591.17 L164.50,591.22 L165.00,591.26 L165.50,591.30 L166.00,591.34 L166.50,591.38 L167.00,591.42 L167.50,591.46 L168.00,591.49 L168.50,591.53 L169.00,591.56 L169.50,591.59 L170.00,591.62 L170.50,591.65 L171.00,591.68 L171.50,591.71 L172.00,591.74 L172.50,591.76 L173.00,591.79 L173.50,591.81 L174.00,591.83 L174.50,591.86 L175.00,591.88 L175.50,591.90 L176.00,591.92 L176.50,591.94 L177.00,591.96 L177.50,591.97 L178.00,591.99 L178.50,592.01 L179.00,592.02 L179.50,592.04 L180.00,592.06 L180.50,592.07 L181.00,592.08 L181.50,592.10 L182.00,592.11 L182.50,592.12 L183.00,592.14 L183.50,592.15 L184.00,592.16 L184.50,592.17 L185.00,592.18 L185.50,592.19 L186.00,592.20 L186.50,592.21 L187.00,592.22 L187.50,592.23 L188.00,592.24 L188.50,592.24 L189.00,592.25 L189.50,592.26 L190.00,592.27 L190.50,592.27 L191.00,592.28 L191.50,592.29 L192.00,592.29 L192.50,592.30 L193.00,592.31 L193.50,592.31 L194.00,592.32 L194.50,592.32 L195.00,592.33 L195.50,592.33 L196.00,592.34 L196.50,592.34 L197.00,592.35 L197.50,592.35" stroke-width="1.7" fill="none"/>
<line x1="69.60" y1="587.60" x2="69.60" y2="593.20" stroke-width="1.4"/>
<text stroke="none" x="199.20" y="586.50" font-size="9.6" text-anchor="start" font-family="Liberation Serif, serif" >Hx 5 &#956;M</text>
<text stroke="none" x="199.20" y="594.70" font-size="9.6" text-anchor="start" font-family="Liberation Serif, serif" >heme 500 nM</text>
<text stroke="none" x="199.20" y="604.70" font-size="9.6" text-anchor="start" font-family="Liberation Serif, serif" >Hx 500 nM</text>
<path d="M347.00,586.80 L347.25,584.80 L347.50,576.47 L347.75,569.84 L348.00,564.33 L348.25,559.60 L348.50,555.47 L348.75,551.80 L349.00,548.50 L349.25,545.50 L349.50,542.74 L349.75,540.20 L350.00,537.83 L350.25,535.62 L350.50,533.55 L350.75,531.60 L351.00,529.75 L351.25,528.00 L351.50,526.34 L351.75,524.76 L352.00,523.24 L352.25,521.79 L352.50,520.40 L352.75,519.06 L353.00,517.78 L353.25,516.54 L353.50,515.34 L353.75,514.19 L354.00,513.07 L354.25,511.98 L354.50,510.93 L354.75,509.91 L355.00,508.92 L355.25,507.96 L355.50,507.02 L355.75,506.10 L356.00,505.21 L356.25,504.35 L356.50,503.50 L356.75,502.67 L357.00,501.86 L357.25,501.07 L357.50,500.30 L357.75,499.54 L358.00,498.80 L358.25,498.07 L358.50,497.36 L358.75,496.66 L359.00,495.98 L359.25,495.31 L359.50,494.65 L359.75,494.00 L360.00,493.36 L360.25,492.74 L360.50,492.12 L360.75,491.52 L361.00,490.92 L361.25,490.34 L361.50,489.76 L361.75,489.19 L362.00,488.63 L362.25,488.08 L362.50,487.54 L362.75,487.00 L363.00,486.48 L363.25,485.96 L363.50,485.45 L363.75,484.94 L364.00,484.44 L364.25,483.95 L364.50,483.46 L364.75,482.98 L365.00,482.51 L365.25,482.04 L365.50,481.58 L365.75,481.12 L366.00,480.67 L366.25,480.22 L366.50,479.78 L366.75,479.35 L367.00,478.92 L367.25,478.49 L367.50,478.07 L367.75,477.65 L368.00,477.24 L368.25,476.83 L368.50,476.43 L368.75,476.03 L369.00,475.63 L369.25,475.24 L369.50,474.85 L369.75,474.47 L370.00,474.09 L370.25,473.71 L370.50,473.34 L370.75,472.97 L371.00,472.60 L371.25,472.24 L371.50,471.88 L371.75,471.52 L372.00,471.17 L372.25,470.82 L372.50,470.47 L372.75,470.13 L373.00,469.79 L373.25,469.45 L373.50,469.11 L373.75,468.78 L374.00,468.45 L374.25,468.12 L374.50,467.80 L374.75,467.47 L375.00,467.16 L375.25,466.84 L375.50,466.52 L375.75,466.21 L376.00,465.90 L376.25,465.59 L376.50,465.29 L376.75,464.98 L377.00,464.68 L377.25,464.38 L377.50,464.09 L377.75,463.79 L378.00,463.50 L378.25,463.21 L378.50,462.92 L378.75,462.63 L379.00,462.35 L379.25,462.07 L379.50,461.79 L379.75,461.51 L380.00,461.23 L380.25,460.95 L380.50,460.68 L380.75,460.41 L381.00,460.14 L381.25,459.87 L381.50,459.60 L381.75,459.34 L382.00,459.07 L382.25,458.81 L382.50,458.55 L382.75,458.29 L383.00,458.04 L383.25,457.78 L383.50,457.53 L383.75,457.27 L384.00,457.02 L384.25,456.77 L384.50,456.52 L384.75,456.28 L385.00,456.03 L385.25,455.79 L385.50,455.54 L385.75,455.30 L386.00,455.06 L386.25,454.82 L386.50,454.58 L386.75,454.35 L387.00,454.11 L387.25,453.88 L387.50,453.65 L387.75,453.41 L388.00,453.18 L388.25,452.95 L388.50,452.73 L388.75,452.50 L389.00,452.27 L389.25,452.05 L389.50,451.82 L389.75,451.60 L390.00,451.38 L390.25,451.16 L390.50,450.94 L390.75,450.72 L391.00,450.50 L391.25,450.29 L391.50,450.07 L391.75,449.86 L392.00,449.65 L392.25,449.43 L392.50,449.22 L392.75,449.01 L393.00,448.80 L393.25,448.59 L393.50,448.39 L393.75,448.18 L394.00,447.97 L394.25,447.77 L394.50,447.56 L394.75,447.36 L395.00,447.16 L395.25,446.96 L395.50,446.76 L395.75,446.56 L396.00,446.36 L396.25,446.16 L396.50,445.96 L396.75,445.77 L397.00,445.57 L397.25,445.38 L397.50,445.18 L397.75,444.99 L398.00,444.80 L398.25,444.60 L398.50,444.41 L398.75,444.22 L399.00,444.03 L399.25,443.85 L399.50,443.66 L399.75,443.47 L400.00,443.28 L400.25,443.10 L400.50,442.91 L400.75,442.73 L401.00,442.54 L401.25,442.36 L401.50,442.18 L401.75,442.00 L402.00,441.82 L402.25,441.63 L402.50,441.45 L402.75,441.28 L403.00,441.10 L403.25,440.92 L403.50,440.74 L403.75,440.57 L404.00,440.39 L404.25,440.21 L404.50,440.04 L404.75,439.86 L405.00,439.69 L405.25,439.52 L405.50,439.35 L405.75,439.17 L406.00,439.00 L406.25,438.83 L406.50,438.66 L406.75,438.49 L407.00,438.32 L407.25,438.15 L407.50,437.99 L407.75,437.82 L408.00,437.65 L408.25,437.49 L408.50,437.32 L408.75,437.15 L409.00,436.99 L409.25,436.83 L409.50,436.66 L409.75,436.50 L410.00,436.34 L410.25,436.17 L410.50,436.01 L410.75,435.85 L411.00,435.69 L411.25,435.53 L411.50,435.37 L411.75,435.21 L412.00,435.05 L412.25,434.89 L412.50,434.74 L412.75,434.58 L413.00,434.42 L413.25,434.26 L413.50,434.11 L413.75,433.95 L414.00,433.80 L414.25,433.64 L414.50,433.49 L414.75,433.34 L415.00,433.18 L415.25,433.03 L415.50,432.88 L415.75,432.72 L415.80,432.69 L415.90,433.70 L416.40,436.37 L416.90,438.88 L417.40,441.24 L417.90,443.47 L418.40,445.57 L418.90,447.56 L419.40,449.44 L419.90,451.22 L420.40,452.92 L420.90,454.54 L421.40,456.08 L421.90,457.56 L422.40,458.97 L422.90,460.32 L423.40,461.62 L423.90,462.88 L424.40,464.08 L424.90,465.25 L425.40,466.37 L425.90,467.46 L426.40,468.52 L426.90,469.55 L427.40,470.55 L427.90,471.52 L428.40,472.47 L428.90,473.40 L429.40,474.30 L429.90,475.19 L430.40,476.05 L430.90,476.90 L431.40,477.74 L431.90,478.56 L432.40,479.36 L432.90,480.15 L433.40,480.93 L433.90,481.70 L434.40,482.45 L434.90,483.20 L435.40,483.94 L435.90,484.66 L436.40,485.38 L436.90,486.09 L437.40,486.79 L437.90,487.48 L438.40,488.16 L438.90,488.84 L439.40,489.51 L439.90,490.17 L440.40,490.83 L440.90,491.48 L441.40,492.13 L441.90,492.77 L442.40,493.40 L442.90,494.03 L443.40,494.65 L443.90,495.27 L444.40,495.88 L444.90,496.49 L445.40,497.09 L445.90,497.68 L446.40,498.28 L446.90,498.86 L447.40,499.45 L447.90,500.03 L448.40,500.60 L448.90,501.17 L449.40,501.74 L449.90,502.30 L450.40,502.85 L450.90,503.41 L451.40,503.96 L451.90,504.50 L452.40,505.04 L452.90,505.58 L453.40,506.12 L453.90,506.65 L454.40,507.17 L454.90,507.69 L455.40,508.21 L455.90,508.73 L456.40,509.24 L456.90,509.75 L457.40,510.25 L457.90,510.75 L458.40,511.25 L458.90,511.74 L459.40,512.24 L459.90,512.72 L460.40,513.21 L460.90,513.69 L461.40,514.16 L461.90,514.64 L462.40,515.11 L462.90,515.58 L463.40,516.04 L463.90,516.50 L464.40,516.96 L464.90,517.42 L465.40,517.87 L465.90,518.32 L466.40,518.76 L466.90,519.20 L467.40,519.64 L467.90,520.08" stroke-width="1.45" fill="none"/>
<path d="M347.00,586.80 L347.25,585.40 L347.75,577.73 L348.25,572.95 L348.75,569.46 L349.25,566.71 L349.75,564.44 L350.25,562.51 L350.75,560.83 L351.25,559.34 L351.75,558.01 L352.25,556.79 L352.75,555.69 L353.25,554.66 L353.75,553.72 L354.25,552.83 L354.75,552.00 L355.25,551.23 L355.75,550.49 L356.25,549.80 L356.75,549.13 L357.25,548.51 L357.75,547.90 L358.25,547.33 L358.75,546.78 L359.25,546.25 L359.75,545.74 L360.25,545.26 L360.75,544.78 L361.25,544.33 L361.75,543.89 L362.25,543.46 L362.75,543.05 L363.25,542.65 L363.75,542.26 L364.25,541.88 L364.75,541.52 L365.25,541.16 L365.75,540.81 L366.25,540.47 L366.75,540.14 L367.25,539.82 L367.75,539.51 L368.25,539.20 L368.75,538.90 L369.25,538.60 L369.75,538.32 L370.25,538.04 L370.75,537.76 L371.25,537.49 L371.75,537.22 L372.25,536.97 L372.75,536.71 L373.25,536.46 L373.75,536.21 L374.25,535.97 L374.75,535.74 L375.25,535.50 L375.75,535.28 L376.25,535.05 L376.75,534.83 L377.25,534.61 L377.75,534.40 L378.25,534.19 L378.75,533.98 L379.25,533.77 L379.75,533.57 L380.25,533.37 L380.75,533.18 L381.25,532.99 L381.75,532.80 L382.25,532.61 L382.75,532.42 L383.25,532.24 L383.75,532.06 L384.25,531.88 L384.75,531.71 L385.25,531.53 L385.75,531.36 L386.25,531.19 L386.75,531.03 L387.25,530.86 L387.75,530.70 L388.25,530.54 L388.75,530.38 L389.25,530.22 L389.75,530.07 L390.25,529.91 L390.75,529.76 L391.25,529.61 L391.75,529.46 L392.25,529.31 L392.75,529.17 L393.25,529.02 L393.75,528.88 L394.25,528.74 L394.75,528.60 L395.25,528.46 L395.75,528.33 L396.25,528.19 L396.75,528.06 L397.25,527.92 L397.75,527.79 L398.25,527.66 L398.75,527.53 L399.25,527.40 L399.75,527.28 L400.25,527.15 L400.75,527.03 L401.25,526.90 L401.75,526.78 L402.25,526.66 L402.75,526.54 L403.25,526.42 L403.75,526.30 L404.25,526.18 L404.75,526.07 L405.25,525.95 L405.75,525.84 L406.25,525.72 L406.75,525.61 L407.25,525.50 L407.75,525.39 L408.25,525.28 L408.75,525.17 L409.25,525.06 L409.75,524.95 L410.25,524.85 L410.75,524.74 L411.25,524.64 L411.75,524.53 L412.25,524.43 L412.75,524.33 L413.25,524.22 L413.75,524.12 L414.25,524.02 L414.75,523.92 L415.25,523.82 L415.75,523.72 L415.80,523.72 L415.85,530.35 L416.35,531.29 L416.85,532.19 L417.35,533.07 L417.85,533.92 L418.35,534.75 L418.85,535.55 L419.35,536.33 L419.85,537.09 L420.35,537.83 L420.85,538.54 L421.35,539.23 L421.85,539.90 L422.35,540.56 L422.85,541.19 L423.35,541.81 L423.85,542.41 L424.35,542.99 L424.85,543.56 L425.35,544.11 L425.85,544.64 L426.35,545.16 L426.85,545.67 L427.35,546.16 L427.85,546.64 L428.35,547.11 L428.85,547.56 L429.35,548.00 L429.85,548.43 L430.35,548.85 L430.85,549.26 L431.35,549.66 L431.85,550.04 L432.35,550.42 L432.85,550.79 L433.35,551.15 L433.85,551.50 L434.35,551.84 L434.85,552.17 L435.35,552.50 L435.85,552.81 L436.35,553.12 L436.85,553.43 L437.35,553.72 L437.85,554.01 L438.35,554.29 L438.85,554.57 L439.35,554.83 L439.85,555.10 L440.35,555.36 L440.85,555.61 L441.35,555.85 L441.85,556.09 L442.35,556.33 L442.85,556.56 L443.35,556.79 L443.85,557.01 L444.35,557.23 L444.85,557.44 L445.35,557.65 L445.85,557.86 L446.35,558.06 L446.85,558.25 L447.35,558.45 L447.85,558.64 L448.35,558.83 L448.85,559.01 L449.35,559.19 L449.85,559.37 L450.35,559.54 L450.85,559.71 L451.35,559.88 L451.85,560.05 L452.35,560.21 L452.85,560.37 L453.35,560.53 L453.85,560.69 L454.35,560.84 L454.85,561.00 L455.35,561.15 L455.85,561.29 L456.35,561.44 L456.85,561.58 L457.35,561.72 L457.85,561.86 L458.35,562.00 L458.85,562.14 L459.35,562.27 L459.85,562.41 L460.35,562.54 L460.85,562.67 L461.35,562.80 L461.85,562.93 L462.35,563.05 L462.85,563.18 L463.35,563.30 L463.85,563.42 L464.35,563.55 L464.85,563.67 L465.35,563.78 L465.85,563.90 L466.35,564.02 L466.85,564.13 L467.35,564.25 L467.85,564.36" stroke-width="1.6" fill="none"/>
<path d="M347.00,586.80 L347.25,585.94 L347.75,580.95 L348.25,577.00 L348.75,573.85 L349.25,571.33 L349.75,569.28 L350.25,567.61 L350.75,566.21 L351.25,565.04 L351.75,564.05 L352.25,563.19 L352.75,562.43 L353.25,561.76 L353.75,561.15 L354.25,560.59 L354.75,560.08 L355.25,559.60 L355.75,559.15 L356.25,558.72 L356.75,558.31 L357.25,557.92 L357.75,557.54 L358.25,557.17 L358.75,556.82 L359.25,556.48 L359.75,556.14 L360.25,555.82 L360.75,555.50 L361.25,555.19 L361.75,554.88 L362.25,554.59 L362.75,554.30 L363.25,554.01 L363.75,553.73 L364.25,553.46 L364.75,553.20 L365.25,552.94 L365.75,552.68 L366.25,552.43 L366.75,552.19 L367.25,551.95 L367.75,551.71 L368.25,551.49 L368.75,551.26 L369.25,551.04 L369.75,550.82 L370.25,550.61 L370.75,550.41 L371.25,550.20 L371.75,550.01 L372.25,549.81 L372.75,549.62 L373.25,549.44 L373.75,549.25 L374.25,549.07 L374.75,548.90 L375.25,548.73 L375.75,548.56 L376.25,548.40 L376.75,548.23 L377.25,548.08 L377.75,547.92 L378.25,547.77 L378.75,547.62 L379.25,547.48 L379.75,547.34 L380.25,547.20 L380.75,547.06 L381.25,546.93 L381.75,546.80 L382.25,546.67 L382.75,546.54 L383.25,546.42 L383.75,546.30 L384.25,546.18 L384.75,546.07 L385.25,545.95 L385.75,545.84 L386.25,545.73 L386.75,545.63 L387.25,545.52 L387.75,545.42 L388.25,545.32 L388.75,545.23 L389.25,545.13 L389.75,545.04 L390.25,544.94 L390.75,544.85 L391.25,544.77 L391.75,544.68 L392.25,544.60 L392.75,544.51 L393.25,544.43 L393.75,544.35 L394.25,544.27 L394.75,544.20 L395.25,544.12 L395.75,544.05 L396.25,543.98 L396.75,543.91 L397.25,543.84 L397.75,543.77 L398.25,543.71 L398.75,543.64 L399.25,543.58 L399.75,543.52 L400.25,543.46 L400.75,543.40 L401.25,543.34 L401.75,543.28 L402.25,543.23 L402.75,543.17 L403.25,543.12 L403.75,543.07 L404.25,543.02 L404.75,542.97 L405.25,542.92 L405.75,542.87 L406.25,542.82 L406.75,542.78 L407.25,542.73 L407.75,542.69 L408.25,542.64 L408.75,542.60 L409.25,542.56 L409.75,542.52 L410.25,542.48 L410.75,542.44 L411.25,542.40 L411.75,542.36 L412.25,542.33 L412.75,542.29 L413.25,542.26 L413.75,542.22 L414.25,542.19 L414.75,542.15 L415.25,542.12 L415.75,542.09 L415.80,542.09 L415.85,547.24 L416.35,548.46 L416.85,549.57 L417.35,550.58 L417.85,551.50 L418.35,552.35 L418.85,553.13 L419.35,553.86 L419.85,554.53 L420.35,555.16 L420.85,555.75 L421.35,556.30 L421.85,556.83 L422.35,557.32 L422.85,557.79 L423.35,558.25 L423.85,558.68 L424.35,559.09 L424.85,559.49 L425.35,559.87 L425.85,560.24 L426.35,560.60 L426.85,560.95 L427.35,561.29 L427.85,561.62 L428.35,561.95 L428.85,562.26 L429.35,562.57 L429.85,562.87 L430.35,563.16 L430.85,563.45 L431.35,563.73 L431.85,564.01 L432.35,564.28 L432.85,564.55 L433.35,564.81 L433.85,565.07 L434.35,565.33 L434.85,565.58 L435.35,565.82 L435.85,566.06 L436.35,566.30 L436.85,566.54 L437.35,566.77 L437.85,566.99 L438.35,567.22 L438.85,567.44 L439.35,567.66 L439.85,567.87 L440.35,568.08 L440.85,568.29 L441.35,568.49 L441.85,568.69 L442.35,568.89 L442.85,569.09 L443.35,569.28 L443.85,569.47 L444.35,569.66 L444.85,569.84 L445.35,570.03 L445.85,570.20 L446.35,570.38 L446.85,570.56 L447.35,570.73 L447.85,570.90 L448.35,571.06 L448.85,571.23 L449.35,571.39 L449.85,571.55 L450.35,571.71 L450.85,571.86 L451.35,572.02 L451.85,572.17 L452.35,572.32 L452.85,572.46 L453.35,572.61 L453.85,572.75 L454.35,572.89 L454.85,573.03 L455.35,573.16 L455.85,573.30 L456.35,573.43 L456.85,573.56 L457.35,573.69 L457.85,573.82 L458.35,573.94 L458.85,574.07 L459.35,574.19 L459.85,574.31 L460.35,574.42 L460.85,574.54 L461.35,574.66 L461.85,574.77 L462.35,574.88 L462.85,574.99 L463.35,575.10 L463.85,575.21 L464.35,575.31 L464.85,575.41 L465.35,575.52 L465.85,575.62 L466.35,575.72 L466.85,575.81 L467.35,575.91 L467.85,576.01" stroke-width="1.6" fill="none"/>
<path d="M347.00,586.80 L347.25,585.50 L347.75,580.06 L348.25,578.25 L348.75,577.45 L349.25,576.92 L349.75,576.47 L350.25,576.06 L350.75,575.66 L351.25,575.27 L351.75,574.88 L352.25,574.51 L352.75,574.14 L353.25,573.79 L353.75,573.44 L354.25,573.09 L354.75,572.76 L355.25,572.43 L355.75,572.11 L356.25,571.80 L356.75,571.49 L357.25,571.19 L357.75,570.89 L358.25,570.60 L358.75,570.32 L359.25,570.05 L359.75,569.78 L360.25,569.51 L360.75,569.26 L361.25,569.00 L361.75,568.76 L362.25,568.51 L362.75,568.28 L363.25,568.04 L363.75,567.82 L364.25,567.60 L364.75,567.38 L365.25,567.17 L365.75,566.96 L366.25,566.76 L366.75,566.56 L367.25,566.36 L367.75,566.17 L368.25,565.99 L368.75,565.80 L369.25,565.62 L369.75,565.45 L370.25,565.28 L370.75,565.11 L371.25,564.95 L371.75,564.79 L372.25,564.63 L372.75,564.48 L373.25,564.33 L373.75,564.18 L374.25,564.04 L374.75,563.90 L375.25,563.76 L375.75,563.63 L376.25,563.49 L376.75,563.37 L377.25,563.24 L377.75,563.12 L378.25,563.00 L378.75,562.88 L379.25,562.76 L379.75,562.65 L380.25,562.54 L380.75,562.43 L381.25,562.32 L381.75,562.22 L382.25,562.12 L382.75,562.02 L383.25,561.92 L383.75,561.83 L384.25,561.74 L384.75,561.65 L385.25,561.56 L385.75,561.47 L386.25,561.38 L386.75,561.30 L387.25,561.22 L387.75,561.14 L388.25,561.06 L388.75,560.98 L389.25,560.91 L389.75,560.84 L390.25,560.77 L390.75,560.70 L391.25,560.63 L391.75,560.56 L392.25,560.49 L392.75,560.43 L393.25,560.37 L393.75,560.31 L394.25,560.25 L394.75,560.19 L395.25,560.13 L395.75,560.07 L396.25,560.02 L396.75,559.96 L397.25,559.91 L397.75,559.86 L398.25,559.81 L398.75,559.76 L399.25,559.71 L399.75,559.66 L400.25,559.62 L400.75,559.57 L401.25,559.53 L401.75,559.48 L402.25,559.44 L402.75,559.40 L403.25,559.36 L403.75,559.32 L404.25,559.28 L404.75,559.24 L405.25,559.21 L405.75,559.17 L406.25,559.13 L406.75,559.10 L407.25,559.07 L407.75,559.03 L408.25,559.00 L408.75,558.97 L409.25,558.94 L409.75,558.91 L410.25,558.88 L410.75,558.85 L411.25,558.82 L411.75,558.79 L412.25,558.76 L412.75,558.73 L413.25,558.71 L413.75,558.68 L414.25,558.66 L414.75,558.63 L415.25,558.61 L415.75,558.59 L415.80,558.58 L415.85,562.68 L416.35,563.02 L416.85,563.36 L417.35,563.69 L417.85,564.02 L418.35,564.34 L418.85,564.65 L419.35,564.97 L419.85,565.27 L420.35,565.57 L420.85,565.87 L421.35,566.16 L421.85,566.44 L422.35,566.72 L422.85,567.00 L423.35,567.27 L423.85,567.54 L424.35,567.80 L424.85,568.06 L425.35,568.31 L425.85,568.56 L426.35,568.80 L426.85,569.05 L427.35,569.28 L427.85,569.51 L428.35,569.74 L428.85,569.97 L429.35,570.19 L429.85,570.41 L430.35,570.62 L430.85,570.83 L431.35,571.04 L431.85,571.24 L432.35,571.44 L432.85,571.64 L433.35,571.83 L433.85,572.02 L434.35,572.21 L434.85,572.39 L435.35,572.57 L435.85,572.75 L436.35,572.93 L436.85,573.10 L437.35,573.27 L437.85,573.43 L438.35,573.60 L438.85,573.76 L439.35,573.91 L439.85,574.07 L440.35,574.22 L440.85,574.37 L441.35,574.52 L441.85,574.66 L442.35,574.81 L442.85,574.95 L443.35,575.08 L443.85,575.22 L444.35,575.35 L444.85,575.48 L445.35,575.61 L445.85,575.74 L446.35,575.86 L446.85,575.98 L447.35,576.10 L447.85,576.22 L448.35,576.34 L448.85,576.45 L449.35,576.57 L449.85,576.68 L450.35,576.79 L450.85,576.89 L451.35,577.00 L451.85,577.10 L452.35,577.20 L452.85,577.30 L453.35,577.40 L453.85,577.50 L454.35,577.59 L454.85,577.68 L455.35,577.78 L455.85,577.87 L456.35,577.95 L456.85,578.04 L457.35,578.13 L457.85,578.21 L458.35,578.29 L458.85,578.38 L459.35,578.46 L459.85,578.53 L460.35,578.61 L460.85,578.69 L461.35,578.76 L461.85,578.84 L462.35,578.91 L462.85,578.98 L463.35,579.05 L463.85,579.12 L464.35,579.19 L464.85,579.25 L465.35,579.32 L465.85,579.38 L466.35,579.45 L466.85,579.51 L467.35,579.57 L467.85,579.63" stroke-width="1.7" fill="none"/>
<path d="M347.00,586.80 L347.25,585.94 L347.75,582.56 L348.25,581.21 L348.75,580.58 L349.25,580.22 L349.75,579.95 L350.25,579.72 L350.75,579.51 L351.25,579.30 L351.75,579.10 L352.25,578.90 L352.75,578.70 L353.25,578.51 L353.75,578.32 L354.25,578.14 L354.75,577.95 L355.25,577.77 L355.75,577.60 L356.25,577.42 L356.75,577.25 L357.25,577.08 L357.75,576.92 L358.25,576.75 L358.75,576.59 L359.25,576.43 L359.75,576.28 L360.25,576.13 L360.75,575.98 L361.25,575.83 L361.75,575.68 L362.25,575.54 L362.75,575.40 L363.25,575.26 L363.75,575.12 L364.25,574.99 L364.75,574.85 L365.25,574.72 L365.75,574.60 L366.25,574.47 L366.75,574.35 L367.25,574.23 L367.75,574.11 L368.25,573.99 L368.75,573.87 L369.25,573.76 L369.75,573.64 L370.25,573.53 L370.75,573.43 L371.25,573.32 L371.75,573.21 L372.25,573.11 L372.75,573.01 L373.25,572.91 L373.75,572.81 L374.25,572.71 L374.75,572.62 L375.25,572.52 L375.75,572.43 L376.25,572.34 L376.75,572.25 L377.25,572.16 L377.75,572.07 L378.25,571.99 L378.75,571.90 L379.25,571.82 L379.75,571.74 L380.25,571.66 L380.75,571.58 L381.25,571.50 L381.75,571.43 L382.25,571.35 L382.75,571.28 L383.25,571.21 L383.75,571.14 L384.25,571.07 L384.75,571.00 L385.25,570.93 L385.75,570.86 L386.25,570.80 L386.75,570.73 L387.25,570.67 L387.75,570.61 L388.25,570.54 L388.75,570.48 L389.25,570.42 L389.75,570.36 L390.25,570.31 L390.75,570.25 L391.25,570.19 L391.75,570.14 L392.25,570.09 L392.75,570.03 L393.25,569.98 L393.75,569.93 L394.25,569.88 L394.75,569.83 L395.25,569.78 L395.75,569.73 L396.25,569.68 L396.75,569.64 L397.25,569.59 L397.75,569.54 L398.25,569.50 L398.75,569.46 L399.25,569.41 L399.75,569.37 L400.25,569.33 L400.75,569.29 L401.25,569.25 L401.75,569.21 L402.25,569.17 L402.75,569.13 L403.25,569.09 L403.75,569.05 L404.25,569.02 L404.75,568.98 L405.25,568.95 L405.75,568.91 L406.25,568.88 L406.75,568.84 L407.25,568.81 L407.75,568.78 L408.25,568.75 L408.75,568.71 L409.25,568.68 L409.75,568.65 L410.25,568.62 L410.75,568.59 L411.25,568.56 L411.75,568.53 L412.25,568.51 L412.75,568.48 L413.25,568.45 L413.75,568.42 L414.25,568.40 L414.75,568.37 L415.25,568.35 L415.75,568.32 L415.80,568.32 L415.85,572.48 L416.35,572.64 L416.85,572.79 L417.35,572.95 L417.85,573.11 L418.35,573.26 L418.85,573.41 L419.35,573.56 L419.85,573.71 L420.35,573.86 L420.85,574.01 L421.35,574.16 L421.85,574.30 L422.35,574.44 L422.85,574.59 L423.35,574.73 L423.85,574.87 L424.35,575.01 L424.85,575.14 L425.35,575.28 L425.85,575.41 L426.35,575.55 L426.85,575.68 L427.35,575.81 L427.85,575.94 L428.35,576.07 L428.85,576.20 L429.35,576.33 L429.85,576.45 L430.35,576.58 L430.85,576.70 L431.35,576.82 L431.85,576.94 L432.35,577.06 L432.85,577.18 L433.35,577.30 L433.85,577.42 L434.35,577.53 L434.85,577.65 L435.35,577.76 L435.85,577.88 L436.35,577.99 L436.85,578.10 L437.35,578.21 L437.85,578.32 L438.35,578.43 L438.85,578.54 L439.35,578.64 L439.85,578.75 L440.35,578.85 L440.85,578.96 L441.35,579.06 L441.85,579.16 L442.35,579.26 L442.85,579.36 L443.35,579.46 L443.85,579.56 L444.35,579.66 L444.85,579.75 L445.35,579.85 L445.85,579.94 L446.35,580.04 L446.85,580.13 L447.35,580.22 L447.85,580.32 L448.35,580.41 L448.85,580.50 L449.35,580.59 L449.85,580.67 L450.35,580.76 L450.85,580.85 L451.35,580.94 L451.85,581.02 L452.35,581.11 L452.85,581.19 L453.35,581.27 L453.85,581.36 L454.35,581.44 L454.85,581.52 L455.35,581.60 L455.85,581.68 L456.35,581.76 L456.85,581.84 L457.35,581.91 L457.85,581.99 L458.35,582.07 L458.85,582.14 L459.35,582.22 L459.85,582.29 L460.35,582.37 L460.85,582.44 L461.35,582.51 L461.85,582.58 L462.35,582.65 L462.85,582.72 L463.35,582.79 L463.85,582.86 L464.35,582.93 L464.85,583.00 L465.35,583.07 L465.85,583.13 L466.35,583.20 L466.85,583.27 L467.35,583.33 L467.85,583.40" stroke-width="1.9" fill="none"/>
<path d="M347.00,586.80 L347.25,586.37 L347.75,585.42 L348.25,584.89 L348.75,584.55 L349.25,584.30 L349.75,584.10 L350.25,583.92 L350.75,583.75 L351.25,583.59 L351.75,583.43 L352.25,583.28 L352.75,583.13 L353.25,582.98 L353.75,582.84 L354.25,582.70 L354.75,582.56 L355.25,582.42 L355.75,582.29 L356.25,582.16 L356.75,582.04 L357.25,581.91 L357.75,581.79 L358.25,581.68 L358.75,581.56 L359.25,581.45 L359.75,581.33 L360.25,581.23 L360.75,581.12 L361.25,581.01 L361.75,580.91 L362.25,580.81 L362.75,580.71 L363.25,580.62 L363.75,580.52 L364.25,580.43 L364.75,580.34 L365.25,580.25 L365.75,580.17 L366.25,580.08 L366.75,580.00 L367.25,579.92 L367.75,579.84 L368.25,579.76 L368.75,579.69 L369.25,579.61 L369.75,579.54 L370.25,579.47 L370.75,579.40 L371.25,579.33 L371.75,579.26 L372.25,579.19 L372.75,579.13 L373.25,579.07 L373.75,579.01 L374.25,578.94 L374.75,578.89 L375.25,578.83 L375.75,578.77 L376.25,578.72 L376.75,578.66 L377.25,578.61 L377.75,578.56 L378.25,578.50 L378.75,578.45 L379.25,578.40 L379.75,578.36 L380.25,578.31 L380.75,578.26 L381.25,578.22 L381.75,578.17 L382.25,578.13 L382.75,578.09 L383.25,578.05 L383.75,578.01 L384.25,577.97 L384.75,577.93 L385.25,577.89 L385.75,577.85 L386.25,577.82 L386.75,577.78 L387.25,577.75 L387.75,577.71 L388.25,577.68 L388.75,577.64 L389.25,577.61 L389.75,577.58 L390.25,577.55 L390.75,577.52 L391.25,577.49 L391.75,577.46 L392.25,577.43 L392.75,577.40 L393.25,577.38 L393.75,577.35 L394.25,577.32 L394.75,577.30 L395.25,577.27 L395.75,577.25 L396.25,577.23 L396.75,577.20 L397.25,577.18 L397.75,577.16 L398.25,577.13 L398.75,577.11 L399.25,577.09 L399.75,577.07 L400.25,577.05 L400.75,577.03 L401.25,577.01 L401.75,576.99 L402.25,576.97 L402.75,576.96 L403.25,576.94 L403.75,576.92 L404.25,576.90 L404.75,576.89 L405.25,576.87 L405.75,576.85 L406.25,576.84 L406.75,576.82 L407.25,576.81 L407.75,576.79 L408.25,576.78 L408.75,576.76 L409.25,576.75 L409.75,576.74 L410.25,576.72 L410.75,576.71 L411.25,576.70 L411.75,576.68 L412.25,576.67 L412.75,576.66 L413.25,576.65 L413.75,576.64 L414.25,576.63 L414.75,576.61 L415.25,576.60 L415.75,576.59 L415.80,576.59 L415.85,580.24 L416.35,580.34 L416.85,580.43 L417.35,580.53 L417.85,580.63 L418.35,580.72 L418.85,580.82 L419.35,580.92 L419.85,581.01 L420.35,581.10 L420.85,581.20 L421.35,581.29 L421.85,581.38 L422.35,581.48 L422.85,581.57 L423.35,581.66 L423.85,581.75 L424.35,581.84 L424.85,581.93 L425.35,582.02 L425.85,582.10 L426.35,582.19 L426.85,582.28 L427.35,582.37 L427.85,582.45 L428.35,582.54 L428.85,582.62 L429.35,582.71 L429.85,582.79 L430.35,582.88 L430.85,582.96 L431.35,583.04 L431.85,583.13 L432.35,583.21 L432.85,583.29 L433.35,583.37 L433.85,583.45 L434.35,583.53 L434.85,583.61 L435.35,583.69 L435.85,583.77 L436.35,583.85 L436.85,583.93 L437.35,584.01 L437.85,584.08 L438.35,584.16 L438.85,584.24 L439.35,584.31 L439.85,584.39 L440.35,584.46 L440.85,584.54 L441.35,584.61 L441.85,584.68 L442.35,584.76 L442.85,584.83 L443.35,584.90 L443.85,584.97 L444.35,585.05 L444.85,585.12 L445.35,585.19 L445.85,585.26 L446.35,585.33 L446.85,585.40 L447.35,585.47 L447.85,585.54 L448.35,585.60 L448.85,585.67 L449.35,585.74 L449.85,585.81 L450.35,585.87 L450.85,585.94 L451.35,586.01 L451.85,586.07 L452.35,586.14 L452.85,586.20 L453.35,586.27 L453.85,586.33 L454.35,586.40 L454.85,586.46 L455.35,586.52 L455.85,586.59 L456.35,586.65 L456.85,586.71 L457.35,586.77 L457.85,586.83 L458.35,586.89 L458.85,586.96 L459.35,587.02 L459.85,587.08 L460.35,587.14 L460.85,587.19 L461.35,587.25 L461.85,587.31 L462.35,587.37 L462.85,587.43 L463.35,587.49 L463.85,587.54 L464.35,587.60 L464.85,587.66 L465.35,587.71 L465.85,587.77 L466.35,587.83 L466.85,587.88 L467.35,587.94 L467.85,587.99" stroke-width="1.9" fill="none"/>
<path d="M333.3,590.6 L347.0,590.6 L347.0,586.5" stroke-width="2.2" fill="none"/>
<text stroke="none" x="472.20" y="500.60" font-size="9.8" text-anchor="start" font-family="Liberation Serif, serif" >Hx-heme:</text>
<line x1="472.20" y1="520.80" x2="478.30" y2="520.80" stroke-width="1.3"/>
<text stroke="none" x="481.00" y="524.60" font-size="9.8" text-anchor="start" font-family="Liberation Serif, serif" >5 &#956;M</text>
<line x1="472.20" y1="565.20" x2="478.30" y2="565.20" stroke-width="1.3"/>
<text stroke="none" x="481.00" y="568.20" font-size="9.8" text-anchor="start" font-family="Liberation Serif, serif" >1 &#956;M</text>
<line x1="472.20" y1="575.80" x2="478.30" y2="575.80" stroke-width="1.3"/>
<text stroke="none" x="481.00" y="579.30" font-size="9.8" text-anchor="start" font-family="Liberation Serif, serif" >500 nM</text>
<line x1="471.30" y1="581.20" x2="476.60" y2="583.00" stroke-width="1.1"/>
<text stroke="none" x="479.50" y="587.70" font-size="9.8" text-anchor="start" font-family="Liberation Serif, serif" >200 nM</text>
<line x1="471.00" y1="586.00" x2="478.30" y2="591.00" stroke-width="1.1"/>
<text stroke="none" x="479.50" y="595.80" font-size="9.8" text-anchor="start" font-family="Liberation Serif, serif" >100 nM</text>
<line x1="470.20" y1="588.40" x2="479.90" y2="600.50" stroke-width="1.1"/>
<text stroke="none" x="482.30" y="603.80" font-size="9.8" text-anchor="start" font-family="Liberation Serif, serif" >50 nM</text>
</svg>
</body></html>
